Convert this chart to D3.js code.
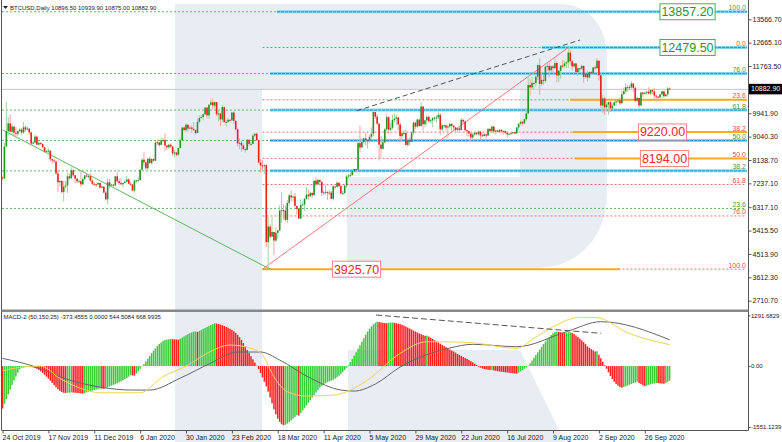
<!DOCTYPE html>
<html><head><meta charset="utf-8">
<script src="https://cdn.jsdelivr.net/npm/d3@7"></script>
<style>
html,body{margin:0;padding:0;background:#fff;}
svg{display:block;}
text{font-family:"Liberation Sans",Arial,sans-serif;}
</style></head><body>
<svg id="c" width="782" height="442"></svg>
<script>
// ---------------- DATA ----------------
const startDate = "2019-10-24";
const missingDays = ["2019-12-25", "2020-01-01"];
const firstOpen = 7470;
const closes = [
7430,8660,9250,9550,9230,9430,9190,9150,
9250,9310,9200,9400,9320,9350,9200,8770,8810,9040,8730,8800,8760,8630,8460,8490,8500,8170,8120,8080,7620,7280,7330,6900,7110,7160,7510,7430,7740,7550,
7420,7320,7320,7200,7400,7540,7510,7520,7340,7220,7200,7190,7250,7070,7110,6880,6620,7280,7150,7190,7150,7510,7320,7250,7200,7250,7300,7390,7220,7190,
6960,7340,7350,7360,7760,8150,8050,7820,8190,8020,8180,8110,8810,8820,8720,8900,8910,8700,8630,8730,8660,8390,8430,8340,8600,8900,9390,9290,9500,9350,
9390,9340,9290,9180,9610,9760,9800,9900,10160,9860,10270,10360,10240,10370,9900,9930,9700,10180,9600,9610,9690,9670,9970,9650,9320,8780,8800,8700,8560,
8530,8920,8760,8760,9080,9150,8900,8040,7930,7900,7940,4970,5570,5180,5360,5030,5330,5420,6190,6200,6190,5830,6480,6770,6700,6730,6370,6250,5880,6400,6420,
6640,6800,6740,6870,6780,7340,7200,7370,7300,6870,6890,6910,6860,6880,6640,7120,7100,7260,7130,6850,6860,7150,7500,7540,7560,7700,7790,7770,8790,8620,
8830,8970,8900,8890,9030,9150,9990,9810,9540,8730,8570,8820,9320,9790,9310,9380,9680,9730,9780,9510,9060,9170,9180,8720,8900,8840,9200,9580,9430,9700,9450,
10200,9520,9670,9800,9630,9670,9750,9780,9780,9880,9320,9470,9480,9390,9430,9530,9460,9400,9300,9360,9290,9690,9620,9290,9250,9160,9010,9120,9190,9140,
9230,9090,9060,9130,9080,9340,9250,9430,9240,9280,9230,9300,9240,9260,9190,9130,9150,9170,9210,9160,9390,9540,9610,9550,9710,9930,11030,10940,11110,11110,11350,
11800,11070,11230,11190,11740,11770,11600,11750,11680,11880,11400,11580,11780,11770,11860,11910,12280,11950,11750,11860,11530,11680,11660,11770,11340,11470,11320,11530,11480,11710,11680,
11970,11410,10240,10510,10170,10280,10370,10130,10240,10360,10400,10440,10330,10680,10790,10950,10950,10940,11090,10920,10420,10530,10240,10740,10690,10730,10770,10700,10840,10780,
10620,10580,10550,10670,10790,10600,10670,10896.5,10882.9];
const highs = [
7500,8800,10370,9800,9900,9540,9430,9420,
9300,9380,9370,9600,9470,9450,9380,9230,8880,9120,9070,8860,8820,8780,8660,8530,8610,8500,8190,8200,8120,7720,7360,7370,7330,7330,7660,7610,7860,7800,
7560,7430,7390,7740,7480,7560,7600,7570,7620,7400,7270,7240,7300,7270,7150,7130,6940,7420,7400,7220,7190,7520,7690,7420,7440,7270,7370,7520,7420,7300,
7210,7400,7390,7500,7790,8200,8440,8050,8200,8280,8190,8190,8880,8930,8830,9000,9000,9170,8710,8750,8790,8670,8520,8440,8610,8980,9400,9430,9560,9530,
9440,9470,9600,9300,9730,9860,9880,9950,10180,10180,10290,10470,10500,10390,10380,10050,9960,10250,10200,9690,9770,9700,9990,10020,9670,9380,8980,8890,8780,
8590,8950,8920,8840,9150,9180,9200,8900,8180,8130,7980,7960,5950,5660,5930,5370,5550,5450,6390,6900,6440,6390,6590,6840,6970,6780,6870,6300,6260,6630,6530,
6680,7100,7000,6900,6880,7350,7470,7420,7380,7300,6960,7180,6920,6980,6940,7190,7140,7320,7260,7200,6940,7170,7550,7600,7640,7720,7800,7800,8840,9470,
9000,9000,9200,8950,9100,9400,10050,9990,9920,9580,9050,8970,9380,9900,9830,9580,9880,9930,9900,9800,9560,9260,9320,9310,8970,9010,9220,9620,9610,9740,9700,
10380,10230,9690,9880,9850,9720,9800,9800,9880,9990,9950,9550,9500,9490,9500,9580,9560,9480,9410,9400,9420,9760,9700,9670,9330,9280,9210,9190,9230,9200,
9280,9270,9130,9180,9140,9360,9360,9470,9440,9300,9290,9330,9340,9280,9270,9210,9180,9190,9230,9220,9420,9550,9660,9650,9740,10110,11390,11250,11340,11170,11450,
11860,12060,11480,11420,11790,11900,11910,11800,11810,12060,11940,11620,11800,12000,11970,11960,12479.5,12390,12010,11880,11880,11700,11700,11820,11780,11540,11580,11560,11580,11720,11790,
12060,11970,11480,10650,10580,10360,10400,10420,10350,10510,10420,10470,10570,10800,10940,11100,11040,11030,11170,11090,10990,10570,10540,10770,10760,10780,10800,10950,10860,10850,
10910,10660,10600,10690,10800,10800,10690,10960,10939.9];
const lows = [
7360,7400,8650,9080,9190,9120,9030,8980,
9050,9210,9120,9150,9230,9280,9120,8700,8750,8760,8700,8700,8710,8590,8410,8440,8400,8080,8000,8040,7570,6900,7130,6850,6530,7030,6860,7370,7420,7500,
7240,7250,7260,7100,7170,7370,7480,7420,7300,7160,7130,7080,7180,7040,7030,6860,6570,6430,7040,7120,7110,7140,7270,7170,7170,7080,7250,7290,7200,7140,
6920,6870,7270,7310,7350,7730,7890,7770,7700,8000,7970,8080,8100,8700,8640,8710,8810,8490,8530,8560,8600,8290,8240,8280,8300,8580,8880,9240,9210,9230,
9320,9170,9250,9110,9170,9540,9730,9670,9880,9750,9730,10250,10080,10130,9830,9620,9460,9600,9580,9420,9570,9590,9650,9540,9280,8660,8550,8460,8520,
8420,8520,8660,8680,8750,9020,8880,8000,7640,7760,7600,4780,3925.7,5090,5160,4480,4970,5090,5380,5720,5850,5770,5700,6380,6550,6530,6290,6030,5870,5860,6360,
6170,6600,6620,6690,6680,6780,7100,7170,7150,6750,6790,6790,6600,6780,6620,6570,7000,7080,7070,6800,6790,6840,7050,7420,7470,7520,7660,7700,7740,8430,
8600,8760,8710,8580,8800,8950,9050,9720,9500,8110,8220,8540,8800,9260,9150,9250,9310,9600,9480,9270,8820,8940,9080,8700,8650,8700,8820,9110,9340,9350,9420,
9420,9270,9400,9470,9590,9560,9400,9650,9570,9710,9110,9250,9360,9250,8980,9380,9260,9290,9230,9200,9280,9290,9560,9220,9040,9050,8840,8950,9080,9090,
9080,8940,9040,9050,8960,9060,9210,9230,9160,9130,9200,9200,9200,9120,9160,9010,9090,9120,9130,9140,9150,9290,9470,9460,9530,9640,9920,10620,10840,10860,10980,
11220,10650,11000,11040,11100,11570,11330,11530,11520,11650,11140,11150,11270,11690,11680,11690,11700,11820,11590,11690,11500,11380,11530,11600,11130,11270,11170,11280,11430,11450,11600,
11650,11200,10150,9960,9880,10030,9880,9990,10110,10230,10220,10350,10260,10290,10640,10700,10770,10830,10890,10760,10360,10370,10140,10210,10570,10660,10640,10660,10640,10680,
10430,10390,10520,10540,10630,10540,10580,10570,10875];

// MACD-2 (50,150,25) histogram, one value per bar
const macdHist = [
-1080,-960,-840,-720,-600,-480,-370,-270,-170,-80,
-50,-35,-25,-20,-20,-25,
-35,-50,-70,-100,-135,-175,-220,-270,-320,-375,-430,-485,-540,-590,-630,-660,-680,
-685,-680,-675,-670,
-675,-680,-685,-690,-695,-700,
-685,-670,-655,-640,-625,-610,-595,-580,-570,
-575,-580,
-560,-540,-520,-500,-480,-460,-440,-415,-390,-365,-335,-305,-270,-235,
-240,-245,
-190,-130,-70,-10,
50,120,190,260,330,390,450,510,560,600,640,662,672,680,688,
684,680,676,672,
695,725,755,785,810,835,855,875,880,
870,
895,920,945,970,995,1020,1045,1065,1087,
1082,1072,1058,1040,1020,998,975,950,920,885,845,795,735,665,585,500,410,330,250,170,90,10,
-80,-180,-290,-400,-520,-650,-800,-950,-1100,-1230,-1340,-1420,-1480,-1505,
-1495,-1465,-1425,-1385,-1340,-1295,-1250,-1260,-1195,-1130,-1065,-1000,-935,-870,-805,-740,-675,-610,-550,-505,-470,-440,-410,-390,-370,-350,-320,-285,-245,-200,-150,-100,-45,
20,100,180,265,350,440,530,620,710,800,880,950,1010,1060,1100,1130,
1120,1110,1100,1095,1090,1100,1105,1110,1100,1090,1080,1070,
1050,1030,1005,980,955,930,905,880,855,830,810,790,770,775,750,720,690,660,630,600,570,540,510,480,450,420,395,370,340,310,280,255,230,205,180,155,125,95,60,25,
-15,-40,-60,-75,-85,-95,-100,-95,-110,-120,-130,-140,-145,-150,-160,-165,-170,-178,-185,-190,-192,
-165,-135,-100,-65,-30,10,70,140,210,280,350,420,490,560,625,685,740,790,835,870,
880,870,858,848,840,848,856,862,845,815,780,740,700,655,610,560,500,465,430,400,370,378,290,200,110,20,
-70,-160,-250,-330,-400,-455,-500,-535,-550,
-535,-515,-495,-475,-455,-435,-418,-400,
-430,-460,-490,-510,
-495,-480,-465,-450,-440,-430,
-435,-440,-445,-450,
-430,-400,-373.4555];
// MACD main line (yellow), read at sample bars: [bar, value]
const macdMainPts = [[0,-120],[9,-34],[20,0],[30,-314],[41,-569],[51,-680],[72,-680],[84,-272],[97,25],[107,323],[119,535],[130,450],[136,280],[142,-272],[149,-654],[159,-764],[173,-739],[180,-654],[191,-357],[208,323],[222,619],[243,604],[269,451],[278,706],[288,1001],[302,1241],[311,1231],[327,848],[349,544.5]];
// MACD signal line (grey), read at sample bars: [bar, value]
const macdSignalPts = [[0,196],[16,0],[35,-357],[51,-535],[68,-611],[77,-611],[93,-306],[109,76],[123,357],[135,357],[145,153],[161,-306],[177,-611],[184,-637],[195,-459],[208,-25],[234,459],[246,553],[269,492],[295,874],[313,1129],[349,669]];
const macdDivergence = [[195.4,1299],[313.1,833]];

const priceTicks = [13566.70,12665.10,11763.50,9941.90,9040.30,8138.70,7237.10,6317.10,5415.50,4513.90,3612.30,2710.70];
const macdTicks = [1291.6829, 0, -1551.1239];
const macdTickLabels = ["1291.6829","0.00","-1551.1239"];
const lastPrice = 10882.90;
const headerText = "BTCUSD,Daily  10896.50 10939.90 10875.00 10882.90";
const macdHeaderText = "MACD-2 (50,150,25) -373.4555 0.0000 544.5084 668.9935";

// Fibonacci tools
const fibLow = 3925.7, fibHigh = 12479.5, extHigh = 13857.2;
const redLevels = [0.0, 23.6, 38.2, 50.0, 61.8, 76.0, 100.0];
const greenLevels = [100.0, 76.0, 61.8, 50.0, 38.2, 23.6];
const cyanLevels = [100.0, 76.0, 61.8, 50.0, 38.2];
const targetBoxes = [
  {v:13857.20, c:"g", cx:687.5},
  {v:12479.50, c:"g", cx:687.5},
  {v:9220.00,  c:"r", cx:662.5},
  {v:8194.00,  c:"r", cx:664.5},
  {v:3925.70,  c:"r", cx:356.5}
];
const orangeLevels = [{v:10460.8, from:570},{v:9220.0, from:573},{v:8194.0, from:575}];
const greenTrend = [[0,9300],[140,3925.7]];
const redTrend = [[136,3925.7],[296,12479.5]];
const blackTrend = [[185.4,10040],[302.1,12767]];
const labelEvery = 24;

// ---------------- DRAW ----------------
(function(){
const svg = d3.select("#c");
const N = closes.length;
const missing = new Set(missingDays);
const fmtKey = d3.timeFormat("%Y-%m-%d");
const dates = d3.timeDay.range(d3.timeParse("%Y-%m-%d")(startDate), new Date(2020, 10, 1))
  .filter(d => !missing.has(fmtKey(d))).slice(0, N);
const opens = closes.map((c, i) => i === 0 ? firstOpen : closes[i - 1]);

const x = d3.scaleLinear().domain([0, 390.25]).range([2.5, 748.5]);
const y = d3.scaleLinear().domain([2710.7, 13566.7]).range([300.67, 19.3]);
const ym = d3.scaleLinear().domain([-1551.1239, 1291.6829]).range([427.0, 315.3]);

const L = 2, R = 748;
const WM = "#e8edf4";

const wm = svg.append("g");
wm.append("rect").attr("x",175).attr("y",4).attr("width",87).attr("height",438).attr("fill",WM);
wm.append("path").attr("fill",WM)
  .attr("d","M262,4 L560,4 C588,4 607,26 607,56 L607,192 C607,238 578,268 535,268 L347,268 L347,177 L520,177 L520,89 L262,89 Z");
wm.append("path").attr("fill",WM).attr("d","M348,350 L520,350 L565,442 L348,442 Z");

svg.append("clipPath").attr("id","ct").append("rect").attr("x",L).attr("y",0).attr("width",R-L).attr("height",309);
svg.append("clipPath").attr("id","cb").append("rect").attr("x",L).attr("y",312).attr("width",R-L).attr("height",118);

const gTop = svg.append("g").attr("clip-path","url(#ct)");

const gPrice = p => fibLow + p/100*(extHigh - fibLow);
const rPrice = p => fibHigh - p/100*(fibHigh - fibLow);
greenLevels.forEach(p => {
  gTop.append("line").attr("x1",L).attr("x2",746).attr("y1",y(gPrice(p))).attr("y2",y(gPrice(p)))
    .attr("stroke","#62b862").attr("stroke-width",1).attr("stroke-dasharray","2,2");
});
redLevels.forEach(p => {
  gTop.append("line").attr("x1",x(redTrend[0][0])).attr("x2",746).attr("y1",y(rPrice(p))).attr("y2",y(rPrice(p)))
    .attr("stroke","#ff6b6b").attr("stroke-width",1).attr("stroke-dasharray","2,2");
});
function cyan(v, from){
  const yy = y(v);
  gTop.append("line").attr("x1",from).attr("x2",747).attr("y1",yy).attr("y2",yy).attr("stroke","#7fd3f0").attr("stroke-width",3);
  gTop.append("line").attr("x1",from).attr("x2",747).attr("y1",yy).attr("y2",yy).attr("stroke","#1c9ad8").attr("stroke-width",1).attr("stroke-dasharray","3,1");
}
cyanLevels.forEach(p => cyan(gPrice(p), p === 100 ? 277 : 270));
cyan(fibHigh, 542);
orangeLevels.forEach(o => {
  gTop.append("line").attr("x1",o.from).attr("x2",747).attr("y1",y(o.v)).attr("y2",y(o.v)).attr("stroke","#ffab1a").attr("stroke-width",2);
});
gTop.append("line").attr("x1",x(redTrend[0][0])).attr("x2",620).attr("y1",y(fibLow)).attr("y2",y(fibLow)).attr("stroke","#ffab1a").attr("stroke-width",2);
gTop.append("line").attr("x1",L).attr("x2",R).attr("y1",y(lastPrice)+0.5).attr("y2",y(lastPrice)+0.5).attr("stroke","#c8c8c8").attr("stroke-width",1);

const tl = (pts, col, dash) => gTop.append("line")
  .attr("x1",x(pts[0][0])).attr("y1",y(pts[0][1])).attr("x2",x(pts[1][0])).attr("y2",y(pts[1][1]))
  .attr("stroke",col).attr("stroke-width",1).attr("stroke-dasharray",dash||null);
tl(greenTrend, "#5cb85c");
tl(redTrend, "#ff7777");
tl(blackTrend, "#555", "5,3");

const cg = gTop.append("g");
for (let i = 0; i < N; i++) {
  const up = closes[i] >= opens[i];
  const cx = x(i);
  cg.append("line").attr("x1",cx).attr("x2",cx).attr("y1",y(highs[i])).attr("y2",y(lows[i]))
    .attr("stroke", up ? "#9fd49f" : "#f6a3a3").attr("stroke-width",1);
  const yt = y(Math.max(opens[i], closes[i])), yb = y(Math.min(opens[i], closes[i]));
  cg.append("rect").attr("x",cx-0.8).attr("width",1.6).attr("y",yt).attr("height",Math.max(1, yb-yt))
    .attr("fill", up ? "#269326" : "#f21d1d");
}

greenLevels.forEach(p => {
  svg.append("text").attr("x",746).attr("y",y(gPrice(p))-1.5).attr("text-anchor","end")
    .attr("font-size",7).attr("fill","#3d9f3d").text(p.toFixed(1));
});
redLevels.forEach(p => {
  svg.append("text").attr("x",746).attr("y",y(rPrice(p))-1.5).attr("text-anchor","end")
    .attr("font-size",7).attr("fill","#ff4a4a").text(p.toFixed(1));
});

targetBoxes.forEach(b => {
  const g = svg.append("g");
  const t = g.append("text").attr("x",b.cx).attr("y",y(b.v)).attr("dy","0.36em").attr("text-anchor","middle")
    .attr("font-size",12.5).attr("fill", b.c === "g" ? "#2f912f" : "#ff2525").text(b.v.toFixed(2));
  const bb = t.node().getBBox();
  g.insert("rect","text").attr("x",bb.x-1.5).attr("y",y(b.v)-8).attr("width",bb.width+3).attr("height",16)
    .attr("fill","#fff").attr("stroke", b.c === "g" ? "#4caf4c" : "#ff8080").attr("stroke-width",1);
});

const gBot = svg.append("g").attr("clip-path","url(#cb)");
for (let i = 0; i < N; i++) {
  const v = macdHist[i];
  const rising = i > 0 && v > macdHist[i-1];
  const y0 = ym(0), y1 = ym(v);
  gBot.append("rect").attr("x",x(i)-0.75).attr("width",1.5).attr("y",Math.min(y0,y1)).attr("height",Math.abs(y1-y0))
    .attr("fill", rising ? "#3acb3a" : "#ff1f1f");
}
const ln = d3.line().x(d => x(d[0])).y(d => ym(d[1])).curve(d3.curveMonotoneX);
gBot.append("path").attr("d", ln(macdSignalPts)).attr("fill","none").attr("stroke","#666").attr("stroke-width",1);
gBot.append("path").attr("d", ln(macdMainPts)).attr("fill","none").attr("stroke","#f2d54a").attr("stroke-width",1);
gBot.append("line").attr("x1",x(macdDivergence[0][0])).attr("y1",ym(macdDivergence[0][1]))
  .attr("x2",x(macdDivergence[1][0])).attr("y2",ym(macdDivergence[1][1]))
  .attr("stroke","#555").attr("stroke-width",1).attr("stroke-dasharray","6,3");

svg.append("line").attr("x1",1.5).attr("x2",1.5).attr("y1",0).attr("y2",430.5).attr("stroke","#555");
svg.append("line").attr("x1",R+0.5).attr("x2",R+0.5).attr("y1",0).attr("y2",430.5).attr("stroke","#555");
svg.append("line").attr("x1",1.5).attr("x2",R+0.5).attr("y1",430.5).attr("y2",430.5).attr("stroke","#555");
svg.append("rect").attr("x",1.5).attr("y",309.5).attr("width",R-1).attr("height",2.5).attr("fill","#888");

const ay = d3.axisRight(y).tickValues(priceTicks).tickSize(3).tickPadding(1).tickFormat(d3.format(".2f"));
const gy = svg.append("g").attr("transform",`translate(${R+0.5},0)`).call(ay);
gy.select(".domain").remove();
gy.selectAll("text").attr("font-size",7).attr("fill","#222").attr("font-family","Liberation Sans, Arial, sans-serif");
gy.selectAll("line").attr("stroke","#555");

const am = d3.axisRight(ym).tickValues(macdTicks).tickSize(2).tickPadding(0.5).tickFormat((d,i) => macdTickLabels[i]);
const gm = svg.append("g").attr("transform",`translate(${R+0.5},0)`).call(am);
gm.select(".domain").remove();
gm.selectAll("text").attr("font-size",6).attr("fill","#222").attr("font-family","Liberation Sans, Arial, sans-serif");
gm.selectAll("line").attr("stroke","#555");

const tagY = y(lastPrice);
svg.append("rect").attr("x",749).attr("y",tagY-5).attr("width",33).attr("height",10.5).attr("fill","#000");
svg.append("text").attr("x",751).attr("y",tagY).attr("dy","0.35em").attr("font-size",7).attr("fill","#fff").text(lastPrice.toFixed(2));

const fmtDate = d3.timeFormat("%-d %b %Y");
const tv = d3.range(0, N, labelEvery);
const ax = d3.axisBottom(x).tickValues(tv).tickSize(3).tickPadding(2).tickFormat(i => fmtDate(dates[i]));
const gx = svg.append("g").attr("transform","translate(0,430.5)").call(ax);
gx.select(".domain").remove();
gx.selectAll("text").attr("font-size",7).attr("fill","#222").attr("text-anchor","start").attr("x",-0.5)
  .attr("font-family","Liberation Sans, Arial, sans-serif");
gx.selectAll("line").attr("stroke","#555");

svg.append("path").attr("d","M3,6 L8,6 L5.5,9 Z").attr("fill","#222");
svg.append("text").attr("x",10).attr("y",10).attr("font-size",6).attr("fill","#222").text(headerText);
svg.append("text").attr("x",3.5).attr("y",319).attr("font-size",6).attr("fill","#222").text(macdHeaderText);
})();
</script>
</body></html>
